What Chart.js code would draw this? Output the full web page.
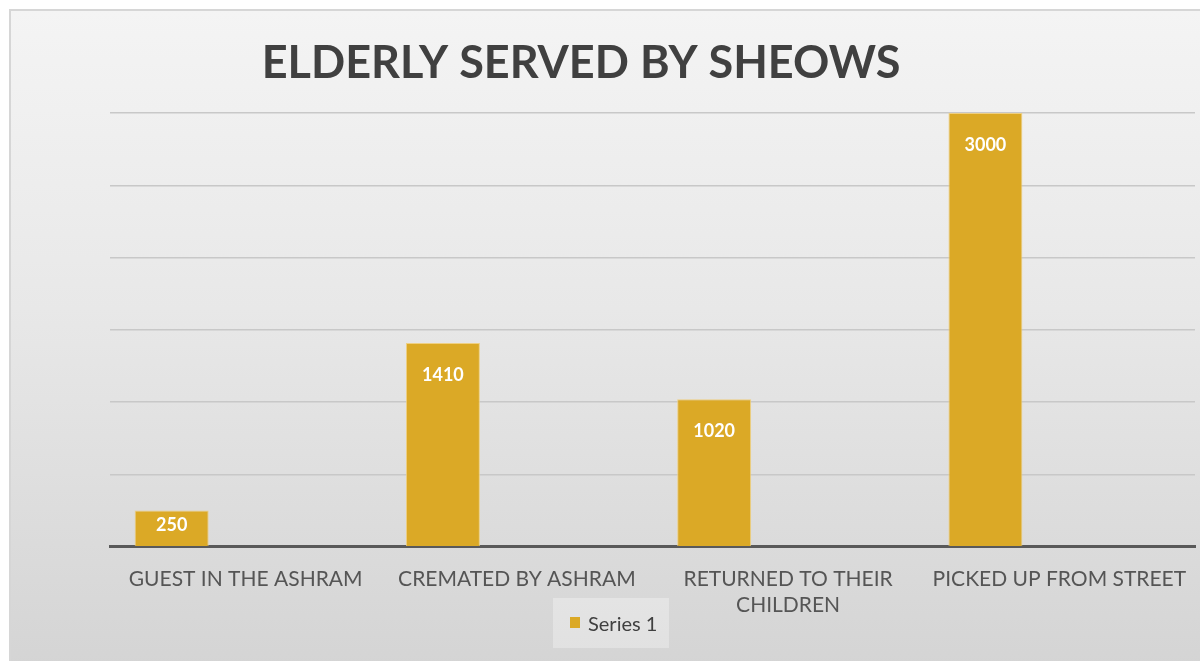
<!DOCTYPE html>
<html>
<head>
<meta charset="utf-8">
<script src="https://cdn.jsdelivr.net/npm/chart.js@4"></script>
<style>
  body { margin: 0; background: #fff; }
  #frame {
    position: absolute; left: 9px; top: 9px; width: 1200px; height: 660px;
    border-left: 2px solid #d6d6d6; border-top: 2px solid #d6d6d6;
    background: linear-gradient(to bottom, #f4f4f4 0%, #e8e8e8 45%, #d4d4d4 100%);
  }
  #wrap { position: absolute; left: 0; top: 0; width: 1200px; height: 661px; }
</style>
</head>
<body>
<div id="frame"></div>
<div id="wrap"><canvas id="myChart" width="1200" height="661"></canvas></div>
<script>
const categories = ['GUEST IN THE ASHRAM', 'CREMATED BY ASHRAM', ['RETURNED TO THEIR', 'CHILDREN'], 'PICKED UP FROM STREET'];
const series1 = [250, 1410, 1020, 3000];
const series2 = [null, null, null, null];
const series3 = [null, null, null, null];

const gold = 'rgb(219,169,38)';

// title, data labels and the little legend box
const decor = {
    id: 'decor',
    afterDatasetsDraw(chart) {
        const ctx = chart.ctx;
        const meta = chart.getDatasetMeta(0);
        ctx.save();
        ctx.fillStyle = '#ffffff';
        ctx.font = 'bold 18px Lato';
        ctx.textAlign = 'center';
        ctx.textBaseline = 'middle';
        meta.data.forEach((bar, i) => {
            const y = Math.min(bar.y + 32, (bar.y + bar.base) / 2 - 3);
            ctx.fillText(String(series1[i]), bar.x, y);
        });
        ctx.restore();
    },
    afterDraw(chart) {
        const ctx = chart.ctx;
        ctx.save();
        ctx.fillStyle = '#404040';
        ctx.font = 'bold 45px Lato';
        ctx.textAlign = 'center';
        ctx.textBaseline = 'middle';
        ctx.fillText('ELDERLY SERVED BY SHEOWS', 581, 63);

        // legend
        ctx.fillStyle = 'rgba(255,255,255,0.3)';
        ctx.fillRect(553, 598, 116, 50);
        ctx.fillStyle = gold;
        ctx.fillRect(570, 617, 10, 11);
        ctx.fillStyle = '#404040';
        ctx.font = '20px Lato';
        ctx.textAlign = 'left';
        ctx.fillText('Series 1', 588, 625);
        ctx.restore();
    }
};

const ctx = document.getElementById('myChart').getContext('2d');
const myChart = new Chart(ctx, {
    type: 'bar',
    data: {
        labels: categories,
        datasets: [{
            label: 'Series 1',
            data: series1,
            backgroundColor: gold,
            borderColor: 'rgba(240,205,120,0.9)',
            borderWidth: 1
        },
        {
            label: 'Series 2',
            data: series2
        },
        {
            label: 'Series 3',
            data: series3
        }]
    },
    options: {
        responsive: false,
        animation: false,
        categoryPercentage: 0.818,
        barPercentage: 1,
        layout: {
            padding: { left: 110, right: 5, top: 113, bottom: 31 }
        },
        plugins: {
            legend: { display: false },
            tooltip: { enabled: false }
        },
        scales: {
            x: {
                grid: { display: false },
                border: { color: '#595959', width: 3 },
                ticks: {
                    color: '#555555',
                    font: { family: 'Lato', size: 21, lineHeight: 1.22 },
                    padding: 12,
                    maxRotation: 0,
                    autoSkip: false
                }
            },
            y: {
                min: 0,
                max: 3000,
                ticks: { stepSize: 500, display: false },
                grid: { color: '#c8c8c8', lineWidth: 1.5, drawTicks: false },
                border: { display: false }
            }
        }
    },
    plugins: [decor]
});
</script>
</body>
</html>
